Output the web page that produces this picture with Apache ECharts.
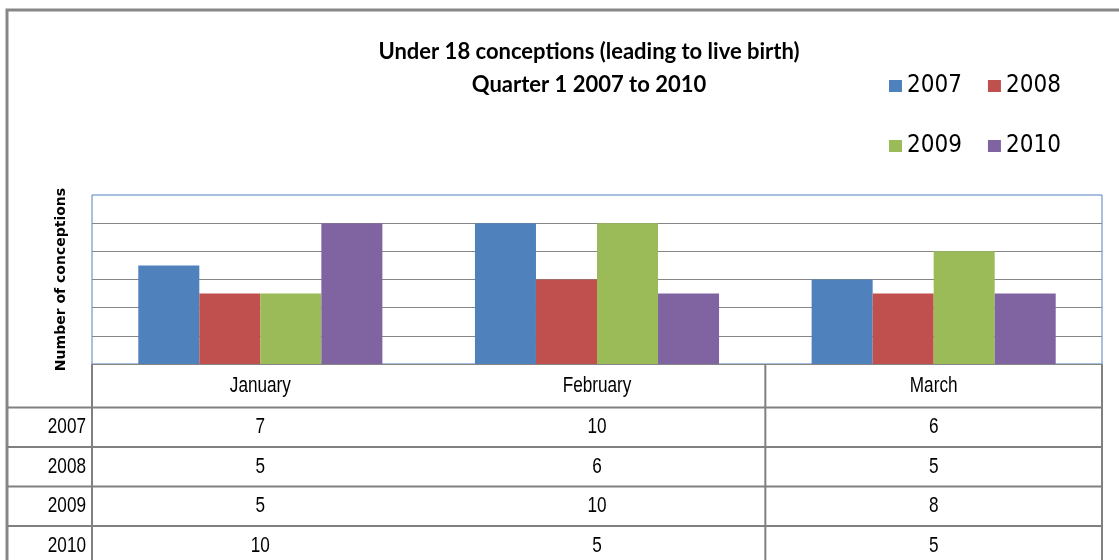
<!DOCTYPE html>
<html>
<head>
<meta charset="utf-8">
<script src="https://cdn.jsdelivr.net/npm/echarts@6/dist/echarts.min.js"></script>
<style>
  html, body {margin: 0; padding: 0; background: #fff;}
  #main {width: 1119px; height: 560px;}
</style>
</head>
<body>
<div id="main"></div>
<script>
var months = ['January', 'February', 'March'];
var years = ['2007', '2008', '2009', '2010'];
var v2007 = [7, 10, 6];
var v2008 = [5, 6, 5];
var v2009 = [5, 10, 8];
var v2010 = [10, 5, 5];
var colors = ['#4F81BD', '#C0504D', '#9BBB59', '#8064A2'];

var condensed = "'DejaVu Sans Condensed', 'DejaVu Sans', sans-serif";
var values = [v2007, v2008, v2009, v2010];

var chart = echarts.init(document.getElementById('main'));

var series = years.map(function (y, i) {
    return {
        name: y, type: 'bar', data: values[i],
        barGap: '0%', barCategoryGap: '27.5%',
        itemStyle: {color: colors[i]}
    };
});

var legendText = {fontFamily: condensed, fontSize: 24, color: '#000'};

chart.setOption({
    animation: false,
    color: colors,
    title: {
        text: 'Under 18 conceptions (leading to live birth)\nQuarter 1 2007 to 2010',
        left: 584, top: 30, textAlign: 'center',
        textStyle: {fontFamily: 'Lato', fontWeight: 'bold', fontSize: 22, lineHeight: 33, color: '#000'}
    },
    legend: [
        {data: ['2007', '2008'], left: 884, top: 69, itemGap: 26, itemWidth: 13, itemHeight: 12, icon: 'rect',
            textStyle: legendText},
        {data: ['2009', '2010'], left: 884, top: 129, itemGap: 26, itemWidth: 13, itemHeight: 12, icon: 'rect',
            textStyle: legendText}
    ],
    grid: {left: 92, right: 17, top: 195, bottom: 196, show: true, borderColor: '#4F81BD', borderWidth: 1},
    xAxis: {
        type: 'category', data: months,
        axisLabel: {show: false}, axisTick: {show: false},
        axisLine: {lineStyle: {color: '#868686', width: 1}}
    },
    yAxis: {
        type: 'value', min: 0, max: 12, interval: 2,
        name: 'Number of conceptions', nameLocation: 'middle', nameGap: 24, nameRotate: 90,
        nameTextStyle: {fontFamily: 'DejaVu Sans', fontWeight: 'bold', fontSize: 14, color: '#000'},
        axisLabel: {show: false}, axisTick: {show: false}, axisLine: {show: false},
        splitLine: {showMaxLine: false, lineStyle: {color: '#868686', width: 1}}
    },
    series: series
});

// data table under the plot, columns follow the category axis
var plotBottom = chart.convertToPixel({yAxisIndex: 0}, 0);
var centers = months.map(function (m) { return chart.convertToPixel({xAxisIndex: 0}, m); });
var half = (centers[1] - centers[0]) / 2;
var tableLeft = centers[0] - half;
var tableRight = centers[2] + half;
var headerBottom = 407.5;
var rowH = 39.5;
var lineStyle = {stroke: '#808080', lineWidth: 2};
var cellFont = '22px "Liberation Sans", sans-serif';
var els = [];

els.push({type: 'rect', shape: {x: 7, y: 10, width: 1300, height: 800},
    style: {fill: null, stroke: '#878787', lineWidth: 3}});

// horizontal lines
for (var r = 0; r < years.length; r++) {
    var yy = headerBottom + r * rowH;
    els.push({type: 'line', shape: {x1: 7, y1: yy, x2: tableRight, y2: yy}, style: lineStyle});
}
// vertical lines (left, Feb/Mar divider, right)
[tableLeft, centers[1] + half, tableRight].forEach(function (x) {
    els.push({type: 'line', shape: {x1: x, y1: plotBottom, x2: x, y2: 600}, style: lineStyle});
});

function cell(text, x, y, align) {
    return {type: 'text', x: x, y: y, scaleX: 0.78,
        style: {text: text, align: align, verticalAlign: 'middle', font: cellFont, fill: '#000'}};
}
// header
months.forEach(function (m, i) {
    els.push(cell(m, centers[i], (plotBottom + headerBottom) / 2, 'center'));
});
// rows
years.forEach(function (y, r) {
    var cy = headerBottom + r * rowH + rowH / 2;
    els.push(cell(y, tableLeft - 6, cy, 'right'));
    values[r].forEach(function (v, i) {
        els.push(cell(String(v), centers[i], cy, 'center'));
    });
});

chart.setOption({graphic: els});
</script>
</body>
</html>
